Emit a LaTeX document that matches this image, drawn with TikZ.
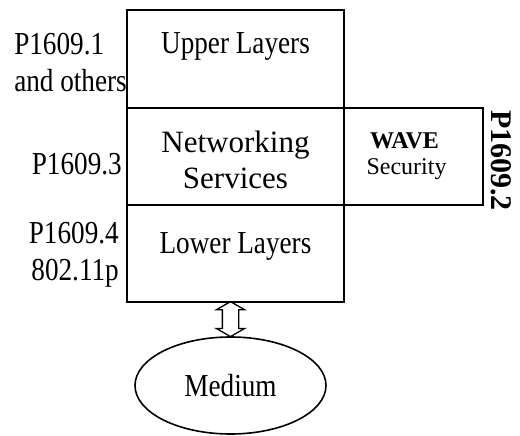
\documentclass[tikz,border=0pt]{standalone}
\usepackage{fontspec}
\setmainfont{Liberation Serif}[FakeStretch=0.85]
\newfontfamily\wideserif{Liberation Serif}
\usetikzlibrary{positioning,shapes.geometric,shapes.arrows,calc}

\begin{document}
\begin{tikzpicture}[x=1pt,y=-1pt,
   layer/.style={draw,line width=1.6pt,inner sep=0pt,outer sep=0pt,
      minimum width=217pt,minimum height=97pt,font=\fontsize{32}{37}\selectfont},
   side/.style={inner sep=0pt,font=\fontsize{32}{37}\selectfont},
   node distance=0pt]
\useasboundingbox (0,0) rectangle (520,436);
% protocol stack
\node[layer,minimum height=98pt,text height=22pt,text depth=32pt] (upper) at (235.5,59) {Upper Layers};
\node[layer,below=of upper,align=center,text height=63pt,text depth=0pt,
   font=\wideserif\fontsize{31}{36}\selectfont] (net) {Networking\\Services};
\node[layer,below=of net,text height=22pt,text depth=22pt] (lower) {Lower Layers};
\node[layer,right=of net,minimum width=139pt,align=center,text height=35pt,text depth=0pt,
   font=\wideserif\fontsize{24}{25}\selectfont] (wave) {\textbf{WAVE}\hspace*{18pt}\\Security\hspace*{14pt}};
% medium and link
\node[draw,ellipse,line width=1.6pt,inner sep=0pt,minimum width=191pt,minimum height=97pt,
   font=\fontsize{32}{37}\selectfont] (medium) at (230.5,385.5) {Medium};
\node[draw,double arrow,rotate=90,line width=1.3pt,inner xsep=0pt,inner ysep=7.5pt,
   text height=0pt,text depth=0pt,minimum height=35pt,double arrow head extend=6pt,
   double arrow tip angle=120]
   (link) at ($(medium.north)!.5!(medium.north|-lower.south)$) {};
% standards
\node[side,align=left,anchor=north east] (p1) at ([yshift=-23pt]upper.north west) {P1609.1\\and others};
\node[side,anchor=base east] (p3) at ([xshift=-5pt,yshift=-18.5pt]net.west) {P1609.3};
\node[side,align=right,anchor=north east] (p4) at ([xshift=-8pt,yshift=-17pt]lower.north west) {P1609.4\\802.11p};
\node[rotate=-90,inner sep=0pt,font=\wideserif\bfseries\fontsize{30}{36}\selectfont]
   (p2) at ([xshift=18pt,yshift=-4pt]wave.east) {P1609.2};
\end{tikzpicture}
\end{document}
